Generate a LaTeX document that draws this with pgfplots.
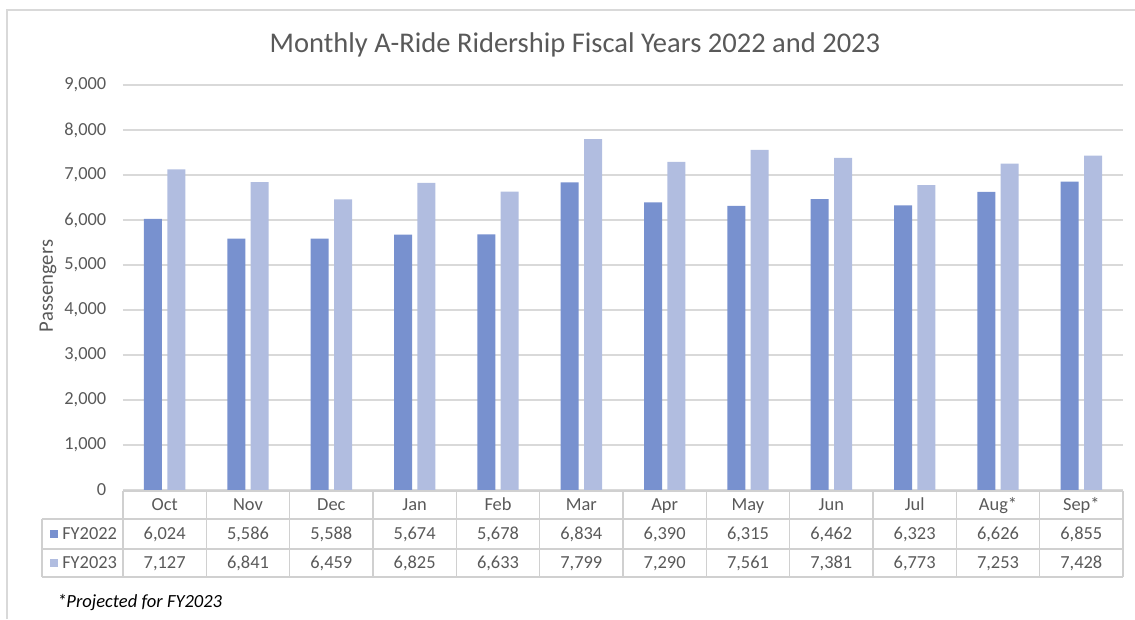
\documentclass[border=0pt]{standalone}
\usepackage{pgfplots}
\usepackage{pgfplotstable}
\pgfplotsset{compat=1.18}
\usepackage{fontspec}
\setmainfont{Carlito}
\definecolor{cA}{HTML}{7891CF}
\definecolor{cB}{HTML}{B1BDE0}
\definecolor{txt}{HTML}{595959}
\definecolor{gridc}{HTML}{D9D9D9}
\definecolor{tbl}{HTML}{D0D0D0}

\pgfplotstableread{
x m fy22 fy23
0 Oct 6024 7127
1 Nov 5586 6841
2 Dec 5588 6459
3 Jan 5674 6825
4 Feb 5678 6633
5 Mar 6834 7799
6 Apr 6390 7290
7 May 6315 7561
8 Jun 6462 7381
9 Jul 6323 6773
10 Aug* 6626 7253
11 Sep* 6855 7428
}\data

\newcommand{\tfont}{\fontsize{13.8}{16}\selectfont}
\tikzset{cellnode/.style={anchor=center, font=\tfont, text=txt, text height=0.72em, text depth=0.2em}}

\begin{document}
\begin{tikzpicture}
\begin{axis}[
  at={(0,0)}, anchor=south west,
  scale only axis, width=750pt, height=303.75pt,
  xmin=-0.5, xmax=11.5, ymin=0, ymax=9000,
  xtick=\empty, ytick={0,1000,...,9000},
  ymajorgrids, major grid style={draw=gridc, line width=1.1pt},
  axis line style={draw=none}, tick style={draw=none},
  yticklabel style={font=\tfont, text=txt, xshift=-9pt},
  clip=false,
  /pgf/number format/1000 sep={,},
  /pgf/number format/assume math mode=true,
]
\addplot[ybar, bar width=13.5pt, bar shift=-8.75pt, fill=cA, draw=none] table[x=x, y=fy22] {\data};
\addplot[ybar, bar width=13.5pt, bar shift=8.75pt, fill=cB, draw=none] table[x=x, y=fy23] {\data};
% table header (month names)
\addplot[draw=none, mark=none, point meta=explicit symbolic, nodes near coords,
  every node near coord/.style={cellnode}]
  table[x=x, y expr=-375, meta=m] {\data};
% table row FY2022
\addplot[draw=none, mark=none, point meta=explicit, nodes near coords,
  nodes near coords={\pgfmathprintnumber[fixed,precision=0,1000 sep={,}]{\pgfplotspointmeta}},
  every node near coord/.style={cellnode}]
  table[x=x, y expr=-1020, meta=fy22] {\data};
% table row FY2023
\addplot[draw=none, mark=none, point meta=explicit, nodes near coords,
  nodes near coords={\pgfmathprintnumber[fixed,precision=0,1000 sep={,}]{\pgfplotspointmeta}},
  every node near coord/.style={cellnode}]
  table[x=x, y expr=-1660, meta=fy23] {\data};
\end{axis}
\begin{scope}[x=0.75pt, y=-0.75pt, shift={(-92.25pt,367.5pt)}]
  % outer frame
  \draw[gridc, line width=1.2pt] (7,619) -- (7,10) -- (1135,10);
  % table grid
  \draw[tbl, line width=1pt] (123,491) -- (1123,491);
  \draw[tbl, line width=1pt] (42,519) -- (1123,519);
  \draw[tbl, line width=1pt] (42,549) -- (1123,549);
  \draw[tbl, line width=1pt] (42,577) -- (1123,577);
  \draw[tbl, line width=1pt] (42,519) -- (42,577);
  \foreach \k in {0,...,12} {
    \draw[tbl, line width=1pt] ({123+83.333*\k},491) -- ({123+83.333*\k},577);
  }
  % legend keys
  \fill[cA] (50,530) rectangle (58,538);
  \fill[cB] (50,559) rectangle (58,567);
  \node[anchor=west, font=\tfont, text=txt, inner sep=0pt, text height=0.72em, text depth=0.2em] at (62,536) {FY2022};
  \node[anchor=west, font=\tfont, text=txt, inner sep=0pt, text height=0.72em, text depth=0.2em] at (62,565) {FY2023};
  % title
  \node[font=\fontsize{21.4}{25}\selectfont, text=txt] at (575,45) {Monthly A-Ride Ridership Fiscal Years 2022 and 2023};
  % y label
  \node[rotate=90, font=\fontsize{15.5}{18}\selectfont, text=txt] at (48,286) {Passengers};
  % footnote
  \node[anchor=west, font=\fontsize{13.9}{16}\selectfont\itshape, text=black, inner sep=0pt] at (57,603) {*Projected for FY2023};
  \pgfresetboundingbox
  \path[use as bounding box] (0,0) rectangle (1135,619);
\end{scope}
\end{tikzpicture}
\end{document}
